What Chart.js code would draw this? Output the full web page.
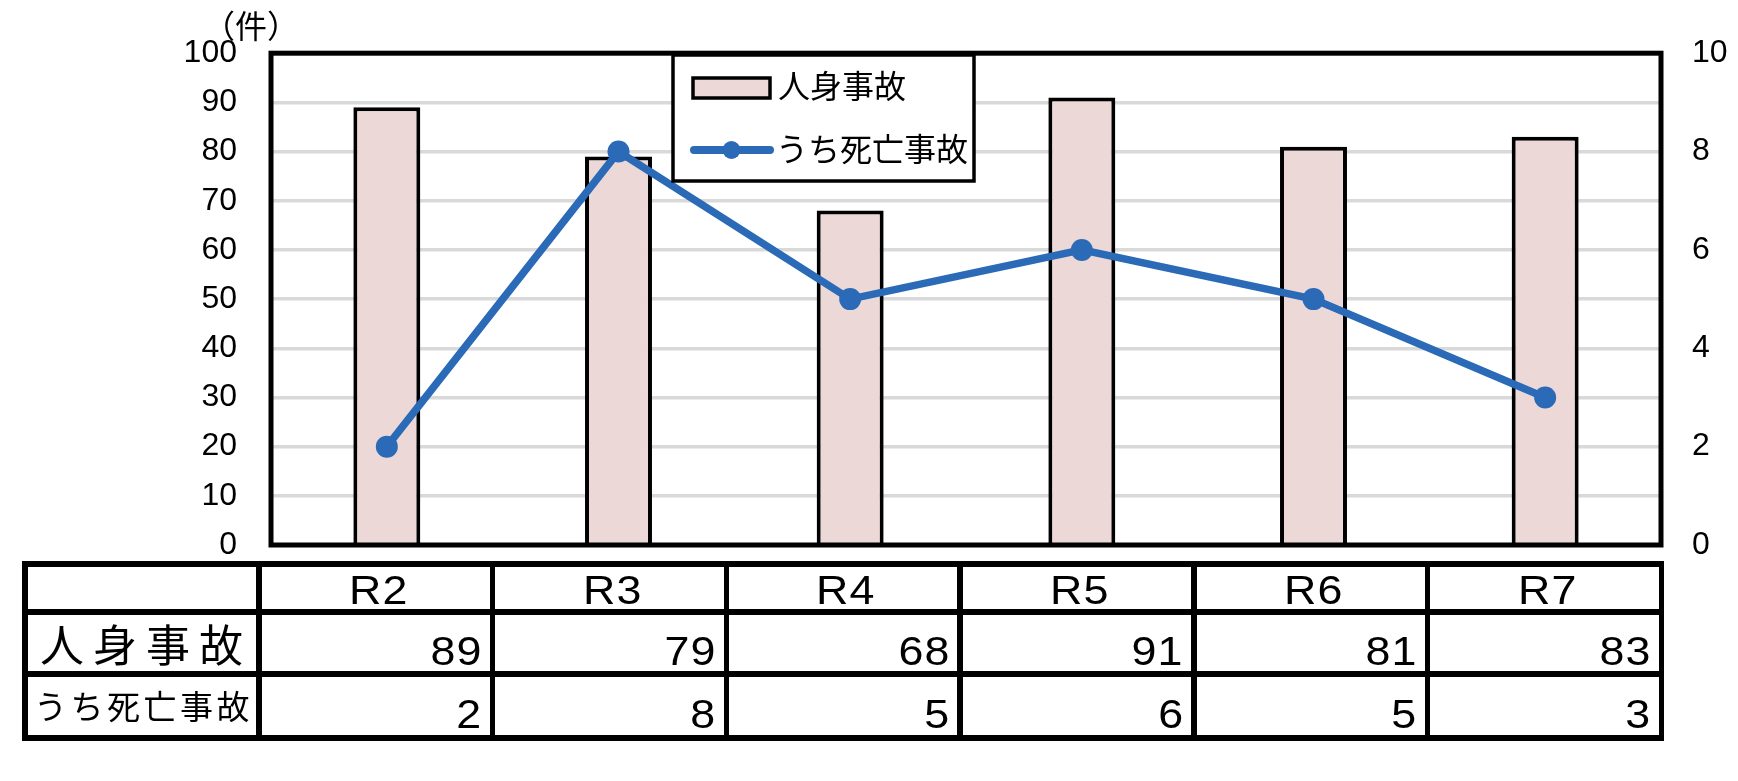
<!DOCTYPE html>
<html><head><meta charset="utf-8">
<script src="https://cdn.jsdelivr.net/npm/chart.js@4.4.0/dist/chart.umd.min.js"></script>
<style>
html,body{margin:0;padding:0;background:#fff;}
#wrap{position:relative;width:1738px;height:781px;overflow:hidden;background:#fff;}
canvas{position:absolute;left:0;top:0;}
.t{position:absolute;white-space:nowrap;color:#000;}
.ln{position:absolute;background:#000;}
.num{font-family:"Liberation Sans",Arial,sans-serif;font-size:40px;line-height:40px;height:40px;letter-spacing:1px;}
.jp{font-family:"Noto Sans CJK JP","Noto Sans CJK SC",sans-serif;}
</style></head><body>
<div id="wrap"><canvas id="c" width="1738" height="781" style="width:1738px;height:781px"></canvas></div>
<script>
// ---- data ----
const categories = ['R2', 'R3', 'R4', 'R5', 'R6', 'R7'];
const injuryAccidents = [89, 79, 68, 91, 81, 83];
const fatalAccidents = [2, 8, 5, 6, 5, 3];
const injuryLabel = '人身事故';
const fatalLabel = 'うち死亡事故';
const unitLabel = '（件）';
const leftAxis = {min: 0, max: 100, step: 10};
const rightAxis = {min: 0, max: 10, step: 2};

// ---- styles ----
const BLUE = '#2A6AB7';
const PINK = '#EDD8D8';
const GRID = '#D9D9D9';
const TICKFONT = {family: '"Liberation Sans", Arial, sans-serif', size: 32};
const JPFONT = '"Noto Sans CJK JP", "Noto Sans CJK SC", sans-serif';

const frame = {
  id: 'frame',
  afterDatasetsDraw(chart) {
    const a = chart.chartArea, c = chart.ctx;
    c.save();
    c.strokeStyle = '#000';
    c.lineWidth = 5;
    c.strokeRect(a.left, a.top, a.right - a.left, a.bottom - a.top);
    c.restore();
  }
};

const legendBox = {
  id: 'legendBox',
  afterDraw(chart) {
    const c = chart.ctx;
    const ds = chart.data.datasets;
    const bar = ds.find(d => d.type === 'bar');
    const line = ds.find(d => d.type === 'line');
    c.save();
    c.fillStyle = '#fff';
    c.fillRect(673, 55, 301, 126);
    c.strokeStyle = '#000';
    c.lineWidth = 3.5;
    c.strokeRect(673, 55, 301, 126);
    // bar swatch
    c.fillStyle = bar.backgroundColor;
    c.fillRect(693, 78, 77, 20);
    c.lineWidth = 3.5;
    c.strokeStyle = bar.borderColor;
    c.strokeRect(693, 78, 77, 20);
    // line swatch
    c.strokeStyle = line.borderColor;
    c.lineWidth = 8;
    c.lineCap = 'round';
    c.beginPath(); c.moveTo(694, 150); c.lineTo(770, 150); c.stroke();
    c.fillStyle = line.pointBackgroundColor;
    c.beginPath(); c.arc(731.5, 150, 9, 0, Math.PI * 2); c.fill();
    // text
    c.fillStyle = '#000';
    c.font = '32px ' + JPFONT;
    c.textBaseline = 'middle';
    c.textAlign = 'left';
    c.fillText(bar.label, 778, 86);
    c.fillText(line.label, 776, 149);
    c.restore();
  }
};

new Chart(document.getElementById('c'), {
  data: {
    labels: categories,
    datasets: [
      {type: 'bar', label: injuryLabel, data: injuryAccidents, yAxisID: 'y',
       backgroundColor: PINK, borderColor: '#000', borderWidth: 4,
       barPercentage: 0.289, categoryPercentage: 1, order: 2},
      {type: 'line', label: fatalLabel, data: fatalAccidents, yAxisID: 'y1',
       borderColor: BLUE, backgroundColor: BLUE, borderWidth: 7.5, tension: 0,
       pointRadius: 11, pointBackgroundColor: BLUE, pointBorderColor: BLUE,
       pointBorderWidth: 0, order: 1}
    ]
  },
  options: {
    responsive: false, devicePixelRatio: 1, animation: false,
    layout: {padding: {left: 0, right: 0, top: 50, bottom: 236}},
    plugins: {legend: {display: false}, tooltip: {enabled: false}},
    scales: {
      x: {display: false, offset: true},
      y: {position: 'left', min: leftAxis.min, max: leftAxis.max,
          ticks: {stepSize: leftAxis.step, padding: 34, font: TICKFONT, color: '#000'},
          grid: {color: GRID, lineWidth: 3.5, drawTicks: false, tickLength: 0},
          border: {display: false},
          afterFit(s) { s.width = 271; }},
      y1: {position: 'right', min: rightAxis.min, max: rightAxis.max,
          ticks: {stepSize: rightAxis.step, padding: 31, font: TICKFONT, color: '#000'},
          grid: {display: false, drawTicks: false, tickLength: 0},
          border: {display: false},
          afterFit(s) { s.width = 77; }}
    }
  },
  plugins: [frame, legendBox]
});

// ---- unit label & data table (HTML text) ----
const wrap = document.getElementById('wrap');
function add(cls, css, text) {
  const d = document.createElement('div');
  d.className = cls;
  d.style.cssText = css;
  if (text !== undefined) d.textContent = text;
  wrap.appendChild(d);
  return d;
}
add('t jp', 'left:203px;top:8px;font-size:32px;line-height:32px;', unitLabel);

const colX = [];
const tLeft = 25, tRight = 1661.5, nCols = categories.length + 1;
for (let i = 0; i <= nCols; i++) colX.push(tLeft + (tRight - tLeft) * i / nCols);
const rowY = [564, 612, 674, 738];
const LW = 5.5;
for (const x of colX) add('ln', `left:${x - LW / 2}px;top:${rowY[0] - LW / 2}px;width:${LW}px;height:${rowY[3] - rowY[0] + LW}px;`);
for (const y of rowY) add('ln', `left:${tLeft - LW / 2}px;top:${y - LW / 2}px;width:${tRight - tLeft + LW}px;height:${LW}px;`);

categories.forEach((cat, i) => {
  const l = colX[i + 1], r = colX[i + 2];
  add('t num', `left:${l + 3}px;width:${r - l}px;text-align:center;top:570px;transform:scaleX(1.12);transform-origin:center;`, cat);
  add('t num', `right:${1738 - r + 10}px;top:631px;text-align:right;transform:scaleX(1.12);transform-origin:right center;`, String(injuryAccidents[i]));
  add('t num', `right:${1738 - r + 10}px;top:694px;text-align:right;transform:scaleX(1.12);transform-origin:right center;`, String(fatalAccidents[i]));
});
add('t jp', 'left:40px;top:621px;font-size:44px;line-height:44px;letter-spacing:9px;', injuryLabel);
add('t jp', 'left:34px;top:689px;font-size:33px;line-height:33px;letter-spacing:3.5px;', fatalLabel);
</script>
</body></html>
